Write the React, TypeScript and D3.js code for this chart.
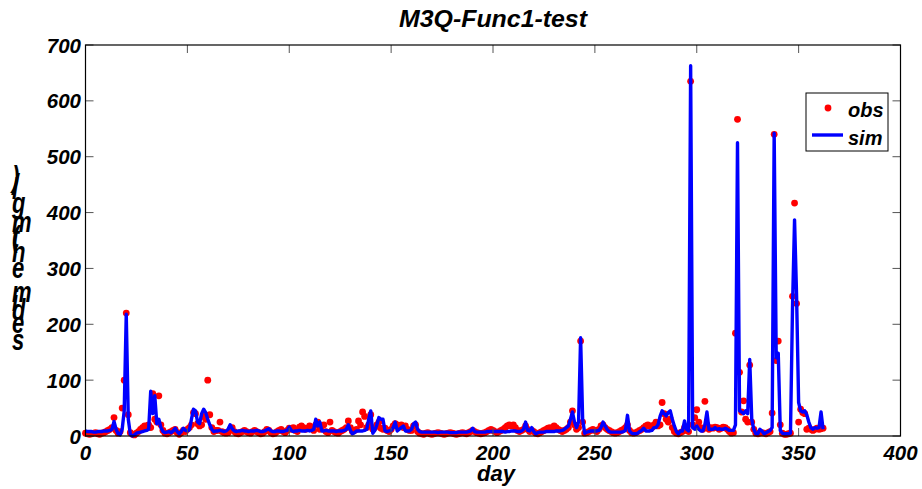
import React from "react";
import * as d3 from "d3";

const simValues: number[] = [
  9, 8, 8, 8, 7, 7, 8, 8, 8, 9,
  9, 9, 10, 12, 26, 12, 4, 2, 12, 45,
  218, 30, 3, 0, 2, 5, 6, 7, 8, 9,
  10, 12, 80, 40, 72, 22, 30, 15, 8, 6,
  7, 8, 6, 9, 14, 8, 4, 8, 14, 10,
  9, 11, 30, 48, 45, 25, 22, 40, 48, 42,
  30, 20, 12, 8, 9, 9, 10, 9, 8, 9,
  12, 20, 13, 9, 8, 9, 9, 10, 9, 9,
  8, 9, 9, 9, 10, 9, 8, 8, 9, 11,
  13, 9, 8, 8, 9, 9, 8, 8, 9, 10,
  16, 10, 8, 9, 9, 10, 9, 9, 9, 10,
  9, 10, 12, 30, 18, 25, 9, 9, 10, 9,
  9, 9, 9, 8, 9, 9, 9, 10, 12, 20,
  10, 4, 6, 9, 9, 9, 9, 10, 12, 30,
  45, 5, 10, 20, 33, 30, 30, 9, 8, 9,
  10, 15, 25, 9, 12, 15, 18, 9, 9, 9,
  12, 22, 25, 12, 8, 7, 7, 7, 7, 7,
  7, 7, 7, 6, 7, 7, 7, 7, 7, 6,
  6, 6, 6, 7, 7, 7, 7, 7, 8, 9,
  14, 8, 7, 7, 7, 7, 7, 8, 8, 8,
  8, 8, 8, 8, 8, 8, 7, 8, 8, 9,
  9, 9, 8, 8, 9, 12, 25, 10, 9, 15,
  8, 4, 6, 7, 7, 7, 8, 8, 8, 8,
  8, 9, 9, 9, 10, 12, 15, 18, 30, 43,
  25, 15, 25, 176, 30, 5, 7, 8, 9, 9,
  9, 9, 10, 15, 25, 18, 12, 8, 7, 7,
  7, 7, 7, 7, 8, 10, 37, 9, 5, 4,
  4, 5, 8, 10, 14, 9, 9, 9, 10, 15,
  15, 20, 35, 45, 40, 36, 42, 45, 30, 18,
  8, 4, 9, 9, 27, 12, 9, 663, 15, 12,
  18, 12, 9, 9, 20, 43, 12, 12, 12, 15,
  12, 13, 12, 12, 14, 12, 10, 10, 10, 20,
  525, 45, 43, 40, 45, 40, 137, 30, 12, 4,
  4, 12, 9, 4, 6, 8, 10, 15, 542, 140,
  148, 10, 5, 4, 4, 4, 5, 230, 387, 250,
  60, 45, 43, 45, 38, 25, 15, 12, 15, 14,
  15, 43, 12,
];

const obsValues: number[] = [
  5, 4, 3, 4, 5, 6, 4, 3, 5, 6,
  8, 10, 12, 15, 33, 10, 5, 8, 50, 100,
  220, 38, 6, 3, 2, 5, 8, 12, 15, 18,
  18, 20, 15, 76, 30, 25, 72, 20, 10, 5,
  4, 6, 8, 10, 12, 6, 3, 6, 10, 8,
  12, 15, 20, 42, 40, 22, 18, 20, 35, 30,
  100, 38, 15, 8, 10, 10, 25, 8, 6, 5,
  6, 12, 15, 8, 5, 4, 6, 8, 10, 8,
  6, 5, 8, 10, 8, 6, 4, 5, 8, 12,
  10, 6, 4, 5, 8, 10, 12, 8, 6, 10,
  14, 12, 15, 10, 8, 16, 18, 15, 12, 14,
  18, 15, 10, 20, 25, 12, 18, 20, 8, 6,
  25, 10, 8, 6, 5, 8, 10, 12, 15, 27,
  15, 8, 10, 12, 27, 20, 43, 35, 15, 20,
  38, 12, 15, 20, 25, 14, 12, 14, 10, 8,
  12, 18, 22, 20, 18, 20, 15, 18, 12, 10,
  10, 18, 20, 8, 5, 4, 3, 5, 6, 4,
  3, 4, 5, 6, 5, 4, 3, 4, 5, 6,
  5, 4, 3, 4, 5, 6, 5, 4, 6, 8,
  10, 8, 6, 5, 4, 5, 6, 8, 10, 12,
  10, 8, 6, 8, 10, 12, 15, 18, 20, 18,
  20, 15, 10, 8, 10, 12, 18, 12, 8, 10,
  8, 5, 4, 6, 8, 10, 12, 14, 15, 12,
  18, 15, 12, 10, 8, 10, 12, 15, 25, 45,
  20, 12, 15, 170, 25, 5, 6, 8, 10, 12,
  10, 8, 12, 18, 20, 15, 12, 10, 8, 6,
  5, 6, 8, 10, 12, 15, 20, 10, 6, 5,
  6, 8, 10, 12, 15, 18, 20, 18, 15, 20,
  25, 18, 20, 60, 40, 30, 25, 30, 15, 8,
  5, 4, 6, 8, 15, 10, 8, 635, 20, 33,
  47, 25, 15, 12, 62, 20, 12, 15, 14, 16,
  15, 12, 14, 16, 15, 12, 8, 5, 6, 184,
  567, 114, 43, 63, 30, 25, 127, 25, 12, 5,
  4, 5, 6, 5, 4, 6, 8, 41, 540, 135,
  170, 20, 5, 3, 3, 4, 5, 250, 417, 237,
  25, 48, 42, 40, 12, 14, 12, 10, 12, 14,
  12, 13, 14,
];

const xTicks = [0, 50, 100, 150, 200, 250, 300, 350, 400];
const yTicks = [0, 100, 200, 300, 400, 500, 600, 700];
const titleText = "M3Q-Func1-test";
const xLabel = "day";
const yLabelChars = ["s", "e", "d", "i", "m", "e", "n", "t", "(", "m", "g", "l", "/", ")"];
const yLabelBaselines = [350, 333, 320, 311, 302, 278, 262, 247, 247, 232, 213, 199, 195, 187];
const legendLabels = ["obs", "sim"];

const FONT = "'Liberation Sans', Arial, Helvetica, sans-serif";

export default function App() {
  const W = 922;
  const H = 489;
  const left = 85.5;
  const right = 900.5;
  const top = 45;
  const bottom = 436;

  const x = d3.scaleLinear().domain([0, 400]).range([left, right]);
  const y = d3.scaleLinear().domain([0, 700]).range([bottom, top]);

  const simPath =
    d3
      .line<number>()
      .x((_, i) => x(i))
      .y((d) => y(d))(simValues) || "";

  const tickLen = 8;
  const tickColor = "#555";

  return (
    <svg
      width={W}
      height={H}
      style={{ position: "absolute", left: 0, top: 0, background: "#fff" }}
      fontFamily={FONT}
    >
      <rect x={0} y={0} width={W} height={H} fill="#fff" />

      {/* data */}
      <g>
        {obsValues.map((v, i) => (
          <circle key={i} cx={x(i)} cy={y(v)} r={3.4} fill="#ff0000" />
        ))}
        <path d={simPath} fill="none" stroke="#0000ff" strokeWidth={3.4} strokeLinejoin="round" />
      </g>

      {/* ticks */}
      <g stroke={tickColor} strokeWidth={1}>
        {xTicks.map((t) => (
          <g key={"xt" + t}>
            <line x1={x(t)} x2={x(t)} y1={bottom} y2={bottom - tickLen} />
            <line x1={x(t)} x2={x(t)} y1={top} y2={top + tickLen} />
          </g>
        ))}
        {yTicks.map((t) => (
          <g key={"yt" + t}>
            <line x1={left} x2={left + tickLen} y1={y(t)} y2={y(t)} />
            <line x1={right} x2={right - tickLen} y1={y(t)} y2={y(t)} />
          </g>
        ))}
      </g>

      {/* box */}
      <rect
        x={left}
        y={top}
        width={right - left}
        height={bottom - top}
        fill="none"
        stroke="#000"
        strokeWidth={1.2}
      />

      {/* tick labels */}
      <g fontSize={20.5} fontWeight="bold" fontStyle="italic" fill="#000">
        {xTicks.map((t) => (
          <text key={"xl" + t} x={x(t)} y={460} textAnchor="middle">
            {t}
          </text>
        ))}
        {yTicks.map((t) => (
          <text key={"yl" + t} x={81} y={y(t) + 7.5} textAnchor="end">
            {t}
          </text>
        ))}
      </g>

      {/* title */}
      <text
        x={493}
        y={27}
        textAnchor="middle"
        fontSize={23}
        fontWeight="bold"
        fontStyle="italic"
        textLength={188}
        lengthAdjust="spacingAndGlyphs"
      >
        {titleText}
      </text>

      {/* x label */}
      <text x={496} y={481} textAnchor="middle" fontSize={22} fontWeight="bold" fontStyle="italic">
        {xLabel}
      </text>

      {/* y label (stacked glyphs, as in the reference) */}
      <g fontSize={22} fontWeight="bold" fontStyle="italic">
        {yLabelChars.map((c, i) => (
          <text key={"yc" + i} transform={`translate(12,${yLabelBaselines[i]}) scale(1,1.35)`}>
            {c}
          </text>
        ))}
      </g>

      {/* legend */}
      <g>
        <rect x={806} y={93} width={82} height={58} fill="#fff" stroke="#000" strokeWidth={1} />
        <circle cx={828} cy={108} r={3.4} fill="#ff0000" />
        <line x1={812} x2={843} y1={135} y2={135} stroke="#0000ff" strokeWidth={3.4} />
        <text x={848} y={116.5} fontSize={20} fontWeight="bold" fontStyle="italic">
          {legendLabels[0]}
        </text>
        <text x={848} y={145} fontSize={20} fontWeight="bold" fontStyle="italic">
          {legendLabels[1]}
        </text>
      </g>
    </svg>
  );
}
